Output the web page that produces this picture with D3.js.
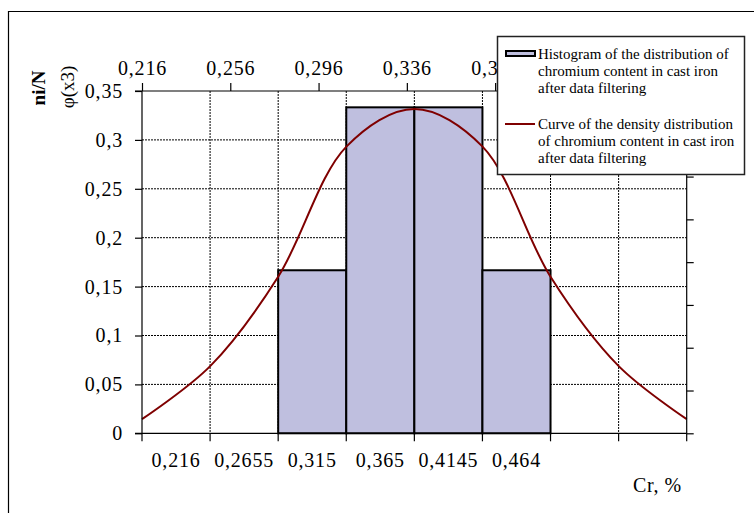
<!DOCTYPE html>
<html>
<head>
<meta charset="utf-8">
<script src="https://cdn.jsdelivr.net/npm/d3@7"></script>
<style>
  body { margin: 0; background: #fff; }
  svg text { font-family: "Liberation Serif", "Times New Roman", serif; fill: #000; }
</style>
</head>
<body>
<div id="chart"></div>
<script>
// bottom categories (histogram intervals)
const categories = ["c1", "c2", "c3", "c4", "c5", "c6", "c7", "c8"];
const catLabels = ["0,216", "0,2655", "0,315", "0,365", "0,4145", "0,464", "", ""];
const histValues = [0, 0, 0.1667, 0.3333, 0.3333, 0.1667, 0, 0];

// density curve, plotted on the secondary (top / right) axes
const curveX = [0.216, 0.2469, 0.2777, 0.3086, 0.3394, 0.3703, 0.4011, 0.4320, 0.4628];
const curveY = [0.33, 1.57, 3.66, 6.70, 7.58, 6.70, 3.66, 1.57, 0.33];

const leftTicks = [0, 0.05, 0.1, 0.15, 0.2, 0.25, 0.3, 0.35];
// labels further right sit under the legend
const topTicks = [0.216, 0.256, 0.296, 0.336, 0.376];
const rightTicks = [0, 1, 2, 3, 4, 5, 6, 7, 8];

const legendItems = [
    ["Histogram of the distribution of", "chromium content in cast iron", "after data filtering"],
    ["Curve of the density distribution", "of chromium content in cast iron", "after data filtering"]
];

const width = 754, height = 513;
const plot = {left: 142, right: 686.7, top: 91, bottom: 433.3};

const svg = d3.select("#chart").append("svg")
    .attr("width", width)
    .attr("height", height);

// outer frame (only top and left edges visible)
svg.append("path")
    .attr("d", `M8.5,${height + 5}V11.5H${width + 5}`)
    .attr("fill", "none")
    .attr("stroke", "#000")
    .attr("stroke-width", 1.2);

const fmt = d => String(+d.toFixed(4)).replace(".", ",");

const x = d3.scaleBand().domain(categories).range([plot.left, plot.right]).padding(0);
const y = d3.scaleLinear().domain([0, 0.35]).range([plot.bottom, plot.top]);
const x2 = d3.scaleLinear().domain([0.216, 0.4628]).range([plot.left, plot.right]);
const y2 = d3.scaleLinear().domain([0, 8]).range([plot.bottom, plot.top]);

const boundaries = categories.map(c => x(c)).concat([plot.right]);

// gridlines
const grid = svg.append("g")
    .attr("stroke", "#000")
    .attr("stroke-width", 1)
    .attr("stroke-dasharray", "2,1");

grid.selectAll(".hgrid")
    .data(leftTicks.filter(t => t > 0 && t < 0.35))
    .enter().append("line")
    .attr("x1", plot.left).attr("x2", plot.right)
    .attr("y1", d => y(d)).attr("y2", d => y(d));

grid.selectAll(".vgrid")
    .data(boundaries.slice(1, -1))
    .enter().append("line")
    .attr("x1", d => d).attr("x2", d => d)
    .attr("y1", plot.top).attr("y2", plot.bottom);

// histogram bars
svg.selectAll(".bar")
    .data(categories.map((c, i) => ({c: c, v: histValues[i]})).filter(d => d.v > 0))
    .enter().append("rect")
    .attr("class", "bar")
    .attr("x", d => x(d.c))
    .attr("y", d => y(d.v))
    .attr("width", x.bandwidth())
    .attr("height", d => y(0) - y(d.v))
    .attr("fill", "#bfbfdf")
    .attr("stroke", "#000")
    .attr("stroke-width", 2);

// density curve
const line = d3.line()
    .x((d, i) => x2(curveX[i]))
    .y(d => y2(d))
    .curve(d3.curveCatmullRom.alpha(0.5));

svg.append("path")
    .attr("d", line(curveY))
    .attr("fill", "none")
    .attr("stroke", "#7f0000")
    .attr("stroke-width", 2);

// left axis
const leftAxis = svg.append("g")
    .attr("transform", `translate(${plot.left},0)`)
    .call(d3.axisLeft(y).tickValues(leftTicks).tickFormat(fmt).tickSize(7).tickPadding(12));

// top axis
const topAxis = svg.append("g")
    .attr("transform", `translate(0,${plot.top})`)
    .call(d3.axisTop(x2).tickValues(topTicks).tickFormat(fmt).tickSize(8).tickPadding(8));

// right axis (no labels)
const rightAxis = svg.append("g")
    .attr("transform", `translate(${plot.right},0)`)
    .call(d3.axisRight(y2).tickValues(rightTicks).tickFormat("").tickSize(7));

// bottom axis: ticks on category boundaries, labels in the middle
const bottomAxis = svg.append("g")
    .attr("transform", `translate(0,${plot.bottom})`)
    .call(d3.axisBottom(x).tickFormat("").tickSize(0));

bottomAxis.selectAll(".btick")
    .data(boundaries)
    .enter().append("line")
    .attr("x1", d => d).attr("x2", d => d)
    .attr("y1", 0).attr("y2", 8)
    .attr("stroke", "#000")
    .attr("stroke-width", 1.2);

bottomAxis.selectAll(".blabel")
    .data(categories)
    .enter().append("text")
    .attr("class", "blabel")
    .attr("x", d => x(d) + x.bandwidth() / 2)
    .attr("y", 34)
    .attr("text-anchor", "middle")
    .attr("font-size", "20px")
    .attr("letter-spacing", "0.8px")
    .text((d, i) => catLabels[i]);

[leftAxis, topAxis, rightAxis, bottomAxis].forEach(g => {
    g.selectAll(".domain").attr("stroke", "#000").attr("stroke-width", 1.2);
    g.selectAll(".tick line").attr("stroke", "#000").attr("stroke-width", 1.2);
    g.selectAll(".tick text")
        .attr("font-family", "Liberation Serif, Times New Roman, serif")
        .attr("font-size", "20px")
        .attr("letter-spacing", "0.8px")
        .attr("fill", "#000");
});
leftAxis.selectAll(".domain").attr("d", `M-7,${plot.top}H0V${plot.bottom}H-7`);
topAxis.selectAll(".domain").attr("d", `M${plot.left},0H${plot.right}`);
rightAxis.selectAll(".domain").attr("d", `M0,${plot.top}V${plot.bottom}`);
bottomAxis.selectAll(".domain").attr("d", `M${plot.left},0H${plot.right}`);

// axis titles
svg.append("text")
    .attr("transform", "translate(45,88) rotate(-90)")
    .attr("text-anchor", "middle")
    .attr("font-size", "19px")
    .attr("font-weight", "bold")
    .text("ni/N");

svg.append("text")
    .attr("transform", "translate(74,87) rotate(-90)")
    .attr("text-anchor", "middle")
    .attr("font-size", "19px")
    .text("φ(x3)");

svg.append("text")
    .attr("x", 633)
    .attr("y", 492)
    .attr("font-size", "20px")
    .attr("letter-spacing", "0.6px")
    .text("Cr, %");

// legend
const legend = svg.append("g").attr("transform", "translate(497,36)");

legend.append("rect")
    .attr("x", 0.5).attr("y", 0.5)
    .attr("width", 247).attr("height", 138)
    .attr("fill", "#fff")
    .attr("stroke", "#222")
    .attr("stroke-width", 1.5);

legend.append("rect")
    .attr("x", 9).attr("y", 15)
    .attr("width", 29).attr("height", 5)
    .attr("fill", "#bfbfdf")
    .attr("stroke", "#000")
    .attr("stroke-width", 2);

legend.append("line")
    .attr("x1", 8).attr("x2", 38)
    .attr("y1", 88).attr("y2", 88)
    .attr("stroke", "#7f0000")
    .attr("stroke-width", 2);

legendItems.forEach((lines, i) => {
    lines.forEach((t, j) => {
        legend.append("text")
            .attr("x", 41)
            .attr("y", 23 + i * 69.5 + j * 17)
            .attr("font-size", "15px")
            .text(t);
    });
});
</script>
</body>
</html>
